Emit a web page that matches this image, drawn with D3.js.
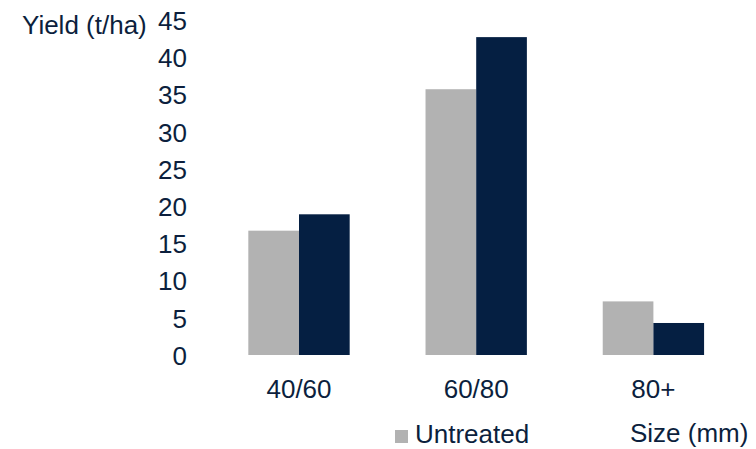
<!DOCTYPE html>
<meta charset="utf-8">
<style>
  body { margin: 0; background: #fff; }
  text { font-family: "Liberation Sans", Arial, sans-serif; fill: #0c1f3d; }
</style>
<body>
<script src="https://d3js.org/d3.v7.min.js"></script>
<script>
var categories = ["40/60", "60/80", "80+"];
var seriesNames = ["Untreated", "Treated"];
var untreated = [16.7, 35.7, 7.2];
var treated = [18.9, 42.7, 4.3];
var yTicks = [0, 5, 10, 15, 20, 25, 30, 35, 40, 45];

var colors = {Untreated: "#b2b2b2", Treated: "#051f42"};

var width = 756, height = 449;
var fs = 26;

var svg = d3.select("body").append("svg")
    .attr("width", width)
    .attr("height", height);

var y = d3.scaleLinear().domain([0, 45]).range([355, 20]);

var x = d3.scaleBand().domain(categories)
    .range([210.4, 742])
    .paddingInner(0.428)
    .paddingOuter(0.214);

var xSub = d3.scaleBand().domain(seriesNames)
    .range([0, x.bandwidth()]);

var rows = categories.map(function(c, i) {
  return {cat: c, values: [
    {name: "Untreated", value: untreated[i]},
    {name: "Treated", value: treated[i]}
  ]};
});

// bars
var groups = svg.selectAll("g.grp").data(rows).enter().append("g")
    .attr("class", "grp")
    .attr("transform", function(d) { return "translate(" + x(d.cat) + ",0)"; });

groups.selectAll("rect").data(function(d) { return d.values; }).enter().append("rect")
    .attr("x", function(d) { return xSub(d.name); })
    .attr("y", function(d) { return y(d.value); })
    .attr("width", xSub.bandwidth())
    .attr("height", function(d) { return y(0) - y(d.value); })
    .attr("fill", function(d) { return colors[d.name]; });

// y axis (labels only)
var yAxis = svg.append("g")
    .attr("transform", "translate(187,0)")
    .call(d3.axisLeft(y).tickValues(yTicks).tickSize(0).tickPadding(0));
yAxis.select(".domain").remove();
yAxis.selectAll("text")
    .attr("font-size", fs)
    .attr("font-family", null)
    .attr("dy", "0.36em")
    .style("fill", "#0c1f3d");

// x axis (labels only)
var xAxis = svg.append("g")
    .attr("transform", "translate(0,398)")
    .call(d3.axisBottom(x).tickSize(0).tickPadding(0));
xAxis.select(".domain").remove();
xAxis.selectAll("text")
    .attr("font-size", fs)
    .attr("font-family", null)
    .attr("dy", 0)
    .style("fill", "#0c1f3d");

// axis titles
svg.append("text")
    .attr("x", 22).attr("y", 33.5)
    .attr("font-size", fs)
    .text("Yield (t/ha)");

svg.append("text")
    .attr("x", 630).attr("y", 442)
    .attr("font-size", fs)
    .text("Size (mm)");

// legend
svg.append("rect")
    .attr("x", 395).attr("y", 430)
    .attr("width", 13).attr("height", 13)
    .attr("fill", colors.Untreated);
svg.append("text")
    .attr("x", 415).attr("y", 443)
    .attr("font-size", fs)
    .text("Untreated");
</script>
</body>
